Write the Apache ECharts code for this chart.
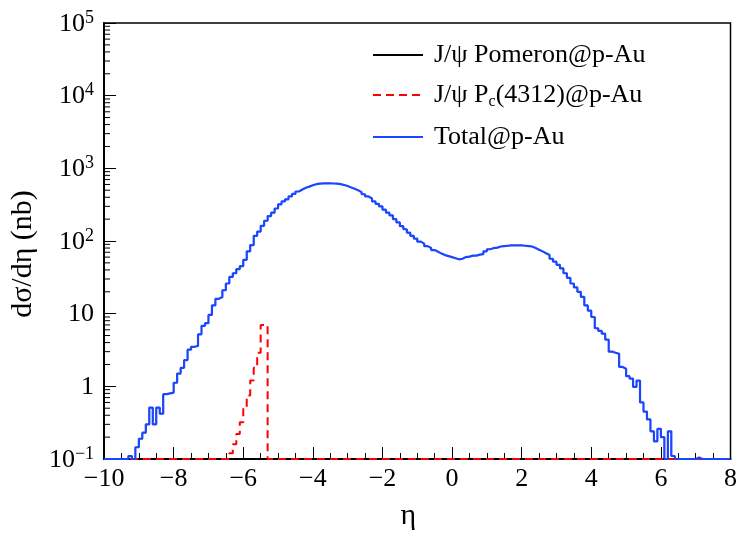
<!DOCTYPE html>
<html><head><meta charset="utf-8">
<script src="https://cdn.jsdelivr.net/npm/echarts@6/dist/echarts.min.js"></script>
<style>html,body{margin:0;padding:0;background:#fff}#c{width:740px;height:536px}</style>
</head><body><div id="c"></div>
<script>
// Histogram binning (eta), bin low edges start at binLow
const binLow = -10, binWidth = 0.1, nBins = 180;

// Total@p-Au, dσ/dη (nb), one value per 0.1 bin from -10.0 to 8.0 (0 = empty bin)
const totalValues = [
  0, 0, 0, 0, 0, 0, 0, 0.11, 0, 0.145,            // -10.0 .. -9.1
  0.19, 0.23, 0.30, 0.51, 0.30, 0.51, 0.42, 0.78, 0.80, 0.82, // -9.0 .. -8.1
  1.12, 1.5, 1.8, 2.3, 3.2, 3.5, 3.6, 5.2, 6.8, 7.4,          // -8.0 .. -7.1
  9.6, 13, 16, 17, 21, 26, 32, 36, 41, 45,                    // -7.0 .. -6.1
  55, 72, 88, 118, 135, 162, 190, 220, 245, 280,              // -6.0 .. -5.1
  320, 350, 375, 410, 445, 480, 510, 540, 560, 585,           // -5.0 .. -4.1
  605, 615, 620, 620, 620, 618, 615, 605, 590, 570,           // -4.0 .. -3.1
  545, 525, 500, 470, 440, 410, 385, 350, 325, 300,           // -3.0 .. -2.1
  270, 245, 225, 200, 180, 160, 145, 130, 118, 108,           // -2.0 .. -1.1
  98, 92, 85, 80, 75, 71, 67, 64, 62, 60,                     // -1.0 .. -0.1
  58, 56, 57, 60, 61, 63, 63, 65, 66, 72,                     //  0.0 ..  0.9
  77, 80, 81, 84, 85, 86, 87, 87, 87, 87,                     //  1.0 ..  1.9
  86, 85, 84, 80, 76, 72, 68, 64, 57, 52,                     //  2.0 ..  2.9
  47, 42, 36, 31, 26, 23, 20, 17, 13, 11,                     //  3.0 ..  3.9
  9.0, 6.3, 5.8, 5.3, 4.4, 3.0, 2.9, 2.8, 1.85, 1.75,         //  4.0 ..  4.9
  1.38, 1.28, 0.98, 1.2, 0.6, 0.45, 0.35, 0.24, 0.175, 0.26,  //  5.0 ..  5.9
  0.2, 0, 0.24, 0.11, 0, 0, 0, 0, 0, 0,                       //  6.0 ..  6.9
  0.105, 0, 0, 0, 0, 0, 0, 0, 0, 0                            //  7.0 ..  7.9
];
// J/ψ Pomeron@p-Au: indistinguishable from the total in the picture (drawn under it)
const pomeronValues = totalValues;
// J/ψ Pc(4312)@p-Au: non-empty bins start at pcFirstEdge, all other bins empty
const pcFirstEdge = -6.4;
const pcValues = [0.12, 0.16, 0.22, 0.32, 0.5, 0.75, 1.2, 1.8, 2.9, 7.0, 7.0];

const seriesNames = ['J/ψ Pomeron@p-Au', 'J/ψ Pc(4312)@p-Au', 'Total@p-Au'];
const yMin = 0.1, yMax = 100000;

const FONT = '"Liberation Serif", "DejaVu Serif", serif';
const r1 = v => Math.round(v * 10) / 10;

function histData(vals, firstEdge) {
  const pts = [];
  for (let i = 0; i < nBins; i++) {
    const edge = r1(binLow + i * binWidth);
    const j = Math.round((edge - firstEdge) / binWidth);
    const v = (j >= 0 && j < vals.length) ? vals[j] : 0;
    pts.push([edge, v > 0 ? v : yMin]);
  }
  pts.push([r1(binLow + nBins * binWidth), pts[pts.length - 1][1]]);
  return pts;
}

// y minor ticks (2..9 x decade)
const yMinor = [];
for (let e = -1; e < 5; e++) for (let k = 2; k <= 9; k++) yMinor.push([binLow, k * Math.pow(10, e)]);

const chart = echarts.init(document.getElementById('c'), null, {renderer: 'canvas'});
chart.setOption({
  animation: false,
  backgroundColor: '#fff',
  grid: {left: 101, right: 9, top: 23, bottom: 65, show: true, borderColor: '#000', borderWidth: 1.5, containLabel: false},
  xAxis: {
    type: 'value', min: -10, max: 8, interval: 2,
    name: 'η', nameLocation: 'middle', nameGap: 42,
    nameTextStyle: {fontFamily: FONT, fontSize: 30, color: '#000', padding: [0, 18, 0, 0]},
    axisLine: {show: true, onZero: false, lineStyle: {color: '#000', width: 2}},
    axisTick: {show: true, inside: true, length: 12, lineStyle: {color: '#000', width: 1}},
    minorTick: {show: true, splitNumber: 4, length: 6, lineStyle: {color: '#000', width: 1}},
    splitLine: {show: false},
    axisLabel: {fontFamily: FONT, fontSize: 26, color: '#000', margin: 7,
      formatter: v => String(v).replace('-', '−')}
  },
  yAxis: {
    type: 'log', logBase: 10, min: yMin, max: yMax, splitNumber: 6,
    name: 'dσ/dη (nb)', nameLocation: 'middle', nameGap: 52,
    nameTextStyle: {fontFamily: FONT, fontSize: 30, color: '#000', padding: [0, 26, 0, 0]},
    axisLine: {show: true, onZero: false, lineStyle: {color: '#000', width: 2}},
    axisTick: {show: true, inside: true, length: 12, lineStyle: {color: '#000', width: 1}},
    splitLine: {show: false},
    axisLabel: {
      margin: 10,
      formatter: v => {
        const e = Math.round(Math.log10(v));
        if (e === 0) return '{b|1}';
        if (e === 1) return '{b|10}';
        return '{b|10}{s|' + (e < 0 ? '−' + (-e) : e) + '}';
      },
      rich: {
        b: {fontFamily: FONT, fontSize: 26, color: '#000', lineHeight: 28, verticalAlign: 'bottom'},
        s: {fontFamily: FONT, fontSize: 18, color: '#000', lineHeight: 18, verticalAlign: 'top'}
      }
    }
  },
  legend: {
    show: true, orient: 'vertical', left: 372, top: 42, padding: 0,
    itemWidth: 50, itemHeight: 14, itemGap: 14,
    itemStyle: {opacity: 0},
    data: seriesNames,
    formatter: name => name.indexOf('Pc(') >= 0
      ? '{t|J/ψ P}{sub|c}{t|(4312)@p-Au}' : '{t|' + name + '}',
    textStyle: {
      fontFamily: FONT, fontSize: 26, color: '#000', padding: [0, 0, 0, 6],
      rich: {
        t: {fontFamily: FONT, fontSize: 26, color: '#000', lineHeight: 30},
        sub: {fontFamily: FONT, fontSize: 16, color: '#000', lineHeight: 16, verticalAlign: 'bottom'}
      }
    }
  },
  series: [
    {
      name: seriesNames[0], type: 'line', step: 'end', symbol: 'none', z: 2,
      data: histData(pomeronValues, binLow),
      lineStyle: {color: '#000', width: 1}, itemStyle: {color: '#000'}
    },
    {
      name: seriesNames[1], type: 'line', step: 'end', symbol: 'none', z: 3,
      data: histData(pcValues, pcFirstEdge),
      lineStyle: {color: '#ff0000', width: 2, type: [8, 5]}, itemStyle: {color: '#ff0000'}
    },
    {
      name: seriesNames[2], type: 'line', step: 'end', symbol: 'none', z: 4,
      data: histData(totalValues, binLow),
      lineStyle: {color: '#1a46ff', width: 2.2}, itemStyle: {color: '#1a46ff'}
    },
    {
      type: 'custom', silent: true, z: 5, clip: false,
      data: yMinor,
      renderItem: (params, api) => {
        const p = api.coord([api.value(0), api.value(1)]);
        return {type: 'line', shape: {x1: p[0], y1: p[1], x2: p[0] + 6, y2: p[1]},
          style: {stroke: '#000', lineWidth: 1}};
      }
    }
  ]
});
</script>
</body></html>
